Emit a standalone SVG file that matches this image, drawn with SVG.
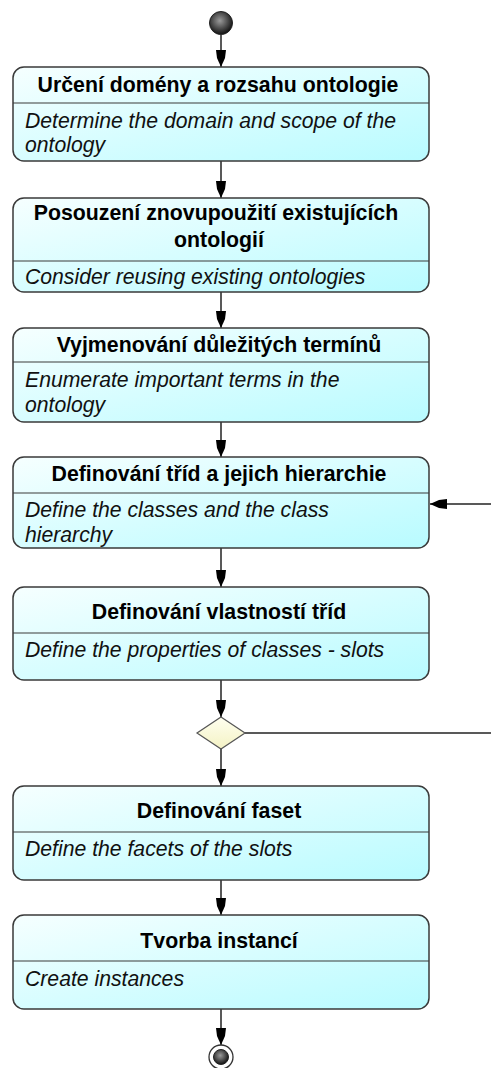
<svg xmlns="http://www.w3.org/2000/svg" width="491" height="1068" viewBox="0 0 491 1068">
<defs>
<linearGradient id="nodeFill" x1="0" y1="0" x2="1" y2="1">
<stop offset="0" stop-color="#f6ffff"/>
<stop offset="1" stop-color="#b8fbff"/>
</linearGradient>
<radialGradient id="ballFill" cx="0.45" cy="0.4" r="0.6">
<stop offset="0" stop-color="#9a9a9a"/>
<stop offset="1" stop-color="#111"/>
</radialGradient>
<linearGradient id="diaFill" x1="0" y1="0" x2="0" y2="1">
<stop offset="0" stop-color="#fffff0"/>
<stop offset="1" stop-color="#f4f2c4"/>
</linearGradient>
<marker id="arr" markerWidth="20" markerHeight="12" viewBox="-18 -6 20 12" refX="0" refY="0" orient="auto" markerUnits="userSpaceOnUse">
<path d="M-17,-5 L-17,5 L-9,4 L0,0 L-9,-4 Z" fill="#000"/>
</marker>
</defs>
<style>
.box{fill:url(#nodeFill);stroke:#3a3a3a;stroke-width:1.5}
.div{stroke:#3a3a3a;stroke-width:1.2}
.t{font-family:"Liberation Sans",Arial,sans-serif;font-weight:bold;font-size:21.3px;fill:#000;text-anchor:middle}
.d{font-family:"Liberation Sans",Arial,sans-serif;font-style:italic;font-size:21.2px;fill:#111}
.c{stroke:#222;stroke-width:1.5;fill:none}
</style>

<g id="connectors">
<line class="c" x1="221" y1="35" x2="221" y2="67" marker-end="url(#arr)"/>
<line class="c" x1="221" y1="161" x2="221" y2="198" marker-end="url(#arr)"/>
<line class="c" x1="221" y1="292" x2="221" y2="328" marker-end="url(#arr)"/>
<line class="c" x1="221" y1="422" x2="221" y2="457" marker-end="url(#arr)"/>
<line class="c" x1="221" y1="548" x2="221" y2="587" marker-end="url(#arr)"/>
<line class="c" x1="221" y1="680" x2="221" y2="717" marker-end="url(#arr)"/>
<line class="c" x1="221" y1="749" x2="221" y2="786" marker-end="url(#arr)"/>
<line class="c" x1="221" y1="880" x2="221" y2="915" marker-end="url(#arr)"/>
<line class="c" x1="221" y1="1009" x2="221" y2="1045" marker-end="url(#arr)"/>
<line class="c" x1="245" y1="733" x2="491" y2="733"/>
<line class="c" x1="491" y1="504" x2="430" y2="504" marker-end="url(#arr)"/>
</g>

<g id="start">
<circle cx="221" cy="23" r="11.5" fill="url(#ballFill)" stroke="#222" stroke-width="1"/>
</g>

<g id="n1">
<rect class="box" x="13" y="67" width="416" height="94" rx="11"/>
<line class="div" x1="13" y1="103" x2="429" y2="103"/>
<text class="t" x="218" y="92">Určení domény a rozsahu ontologie</text>
<text class="d" x="25" y="128">Determine the domain and scope of the</text>
<text class="d" x="25" y="152">ontology</text>
</g>

<g id="n2">
<rect class="box" x="13" y="198" width="416" height="94" rx="11"/>
<line class="div" x1="13" y1="261" x2="429" y2="261"/>
<text class="t" x="216" y="220">Posouzení znovupoužití existujících</text>
<text class="t" x="219" y="247">ontologií</text>
<text class="d" x="25" y="284">Consider reusing existing ontologies</text>
</g>

<g id="n3">
<rect class="box" x="13" y="328" width="416" height="94" rx="11"/>
<line class="div" x1="13" y1="362" x2="429" y2="362"/>
<text class="t" x="219" y="352">Vyjmenování důležitých termínů</text>
<text class="d" x="25" y="387">Enumerate important terms in the</text>
<text class="d" x="25" y="412">ontology</text>
</g>

<g id="n4">
<rect class="box" x="13" y="457" width="416" height="91" rx="11"/>
<line class="div" x1="13" y1="493" x2="429" y2="493"/>
<text class="t" x="219" y="481">Definování tříd a jejich hierarchie</text>
<text class="d" x="25" y="517">Define the classes and the class</text>
<text class="d" x="25" y="542">hierarchy</text>
</g>

<g id="n5">
<rect class="box" x="13" y="587" width="416" height="93" rx="11"/>
<line class="div" x1="13" y1="633" x2="429" y2="633"/>
<text class="t" x="219" y="619">Definování vlastností tříd</text>
<text class="d" x="25" y="657">Define the properties of classes - slots</text>
</g>

<g id="decision">
<polygon points="221,717 245,733 221,749 197,733" fill="url(#diaFill)" stroke="#555" stroke-width="1.2"/>
</g>

<g id="n6">
<rect class="box" x="13" y="786" width="416" height="94" rx="11"/>
<line class="div" x1="13" y1="832" x2="429" y2="832"/>
<text class="t" x="219" y="818">Definování faset</text>
<text class="d" x="25" y="856">Define the facets of the slots</text>
</g>

<g id="n7">
<rect class="box" x="13" y="915" width="416" height="94" rx="11"/>
<line class="div" x1="13" y1="961" x2="429" y2="961"/>
<text class="t" x="219" y="948">Tvorba instancí</text>
<text class="d" x="25" y="986">Create instances</text>
</g>

<g id="end">
<circle cx="221" cy="1057" r="12" fill="#fff" stroke="#333" stroke-width="1.3"/>
<circle cx="221" cy="1057" r="7.5" fill="url(#ballFill)" stroke="#222" stroke-width="1"/>
</g>
</svg>
